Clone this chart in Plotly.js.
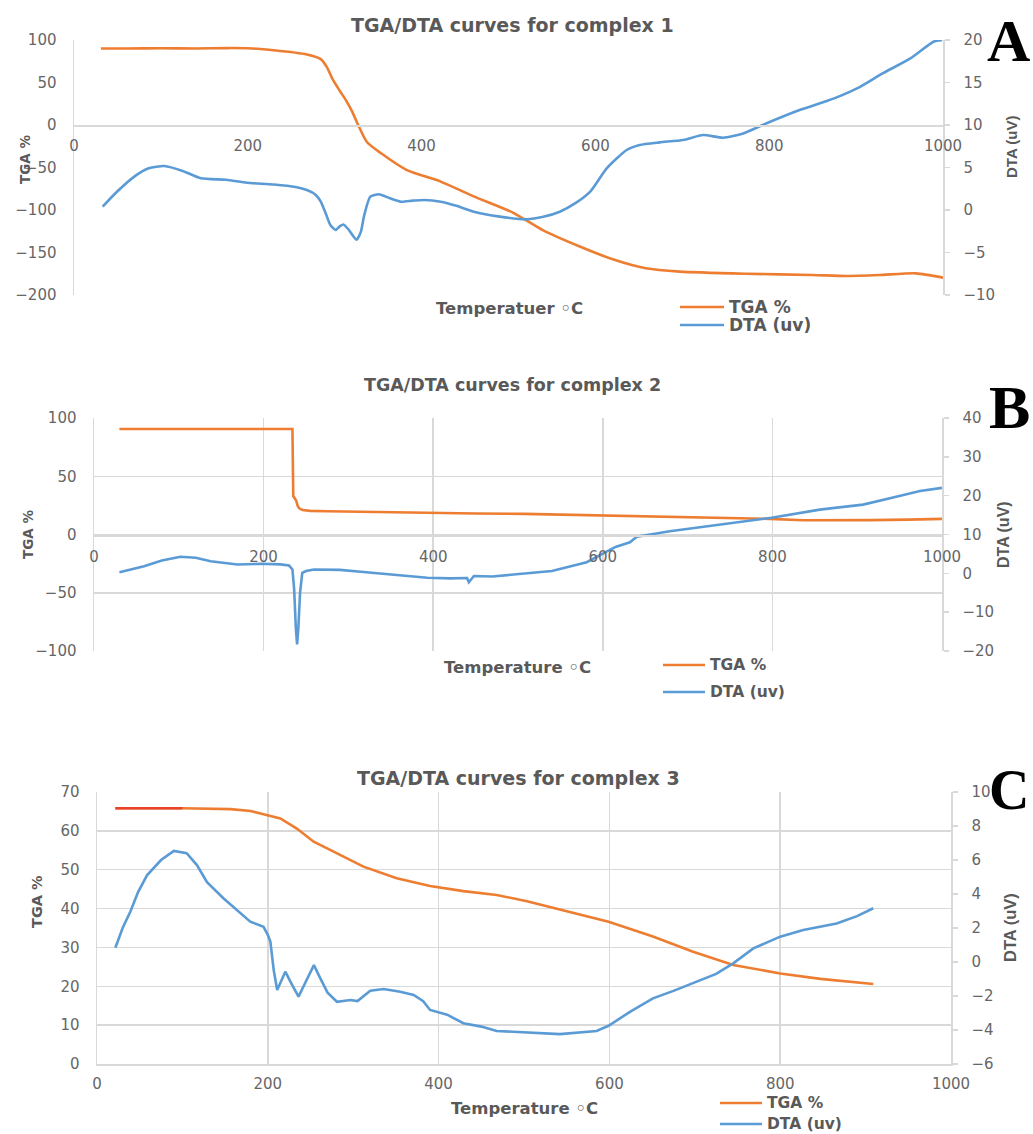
<!DOCTYPE html>
<html>
<head>
<meta charset="utf-8">
<script src="https://cdn.plot.ly/plotly-3.0.1.min.js"></script>
<style>
  html, body { margin: 0; padding: 0; background: #ffffff; overflow: hidden; }
  #chart { width: 1033px; height: 1134px; }
</style>
</head>
<body>
<div id="chart"></div>
<script>
// ---- Complex 1: TGA (%) and DTA (uV) against temperature (°C) ----
const tgaA_T = [31, 60, 100, 140, 176, 200, 230, 268, 284, 291, 298, 306, 313, 320, 327, 337, 353, 383, 422, 460, 505, 540, 582, 620, 658, 697, 774, 850, 889, 927, 969, 1000];
const tgaA   = [90, 90, 90.3, 90, 90.5, 90.3, 88, 83, 77.5, 68, 53, 40, 29, 16, 0, -20, -33, -53, -66.6, -84, -103, -124, -143, -158, -168.6, -172.5, -175, -176.5, -177.6, -176.5, -174.5, -179.6];
const dtaA_T = [33, 50, 69, 86, 104, 125, 146, 175, 199, 230, 255, 268, 278, 284, 290, 295, 301, 306, 310, 316, 325, 330, 334, 341, 351, 363, 376, 390, 403, 422, 440, 460, 490, 521, 540, 559, 577, 594, 613, 636, 651, 674, 701, 724, 747, 770, 797, 835, 874, 901, 931, 962, 989, 999];
const dtaA   = [0.4, 2.2, 3.9, 4.9, 5.18, 4.6, 3.73, 3.55, 3.2, 3.0, 2.7, 2.35, 1.8, 0.98, -0.5, -1.76, -2.35, -1.9, -1.7, -2.3, -3.5, -2.6, -0.6, 1.57, 1.85, 1.4, 0.98, 1.1, 1.18, 0.98, 0.5, -0.2, -0.78, -1.1, -0.8, -0.2, 0.8, 2.16, 4.9, 7.06, 7.65, 7.96, 8.24, 8.82, 8.5, 9.0, 10.2, 11.76, 13.1, 14.3, 16.1, 17.8, 19.8, 20];

// ---- Complex 2 ----
const tgaB_T = [30, 100, 200, 234, 235, 237, 238.5, 240, 242, 246, 255, 275, 330, 393, 450, 507, 600, 699, 797, 836, 876, 915, 960, 1000];
const tgaB   = [90.6, 90.6, 90.6, 90.6, 33, 31, 29, 25, 22.5, 21, 20.3, 19.9, 19.2, 18.5, 18.0, 17.7, 16.2, 15.2, 13.4, 12.2, 12, 12.3, 12.8, 13.4];
const dtaB_T = [30, 59, 80, 102, 120, 137.5, 169, 196.5, 220, 230, 234, 236, 238, 239.5, 241, 243, 245.6, 250, 259.4, 290, 314.5, 350, 393, 420, 432, 440, 442, 445, 448, 470, 507, 540, 581, 597, 615, 632, 640, 679, 738, 799, 856, 907, 946, 974, 1000];
const dtaB   = [0.3, 1.8, 3.3, 4.26, 4.0, 3.1, 2.27, 2.45, 2.3, 2.0, 1.0, -4, -14, -18.3, -14, -5, 0.1, 0.6, 1.0, 0.9, 0.4, -0.3, -1.15, -1.3, -1.15, -1.2, -2.3, -1.5, -0.7, -0.8, -0.1, 0.6, 2.87, 4.8, 6.8, 8.0, 9.4, 10.85, 12.6, 14.3, 16.4, 17.7, 19.7, 21.2, 22];

// ---- Complex 3 ----
const tgaC_T = [21.5, 60, 100, 156, 180, 195, 214.7, 234, 253.7, 273, 312, 351, 390, 429, 468, 503.5, 546, 599, 651, 698, 745, 800, 847, 909];
const tgaC   = [65.8, 65.8, 65.8, 65.6, 65.1, 64.3, 63.2, 60.6, 57.2, 55.1, 50.8, 47.8, 45.8, 44.5, 43.5, 41.9, 39.6, 36.6, 32.8, 28.9, 25.5, 23.3, 21.9, 20.6];
const dtaC_T = [21.5, 30, 39, 48, 58.5, 75, 90, 105, 117, 128.8, 148, 164, 179.5, 195, 200, 203, 207, 211, 215, 220.5, 228, 236, 245, 254, 261.5, 270, 281, 290, 296.6, 305, 320, 335.7, 355, 370.8, 382, 390, 410, 429, 450, 468, 503.5, 542, 585, 599, 625, 651, 675, 702, 725, 745, 768.5, 800, 827, 866, 890, 909];
const dtaC   = [0.84, 2.0, 2.96, 4.1, 5.1, 6.0, 6.53, 6.4, 5.7, 4.7, 3.75, 3.06, 2.37, 2.07, 1.6, 1.2, -0.5, -1.65, -1.2, -0.57, -1.3, -2.04, -1.1, -0.18, -0.96, -1.8, -2.34, -2.3, -2.24, -2.3, -1.69, -1.59, -1.75, -1.94, -2.3, -2.82, -3.1, -3.6, -3.8, -4.06, -4.14, -4.24, -4.06, -3.75, -2.9, -2.14, -1.7, -1.16, -0.7, -0.08, 0.8, 1.49, 1.88, 2.27, 2.7, 3.16];
// the first plateau points of the complex 3 TGA trace are plotted in red
const tgaC_redCount = 3;

const panelTitles = ['TGA/DTA curves for complex 1', 'TGA/DTA curves for complex 2', 'TGA/DTA curves for complex 3'];
const xTitles = ['Temperatuer \u25E6C', 'Temperature \u25E6C', 'Temperature \u25E6C'];
const panelLetters = ['A', 'B', 'C'];
const tgaName = 'TGA %';
const dtaName = 'DTA (uv)';
const tempTicks = [0, 200, 400, 600, 800, 1000];

// ---- page geometry (pixels) ----
const W = 1033, H = 1134;
const px = v => v / W;
const py = v => 1 - v / H;

const ORANGE = '#ED7D31';
const RED = '#E8412C';
const BLUE = '#5B9BD5';
const GRID = '#d9d9d9';
const TXT = '#595959';
const LW = 2.6;
const tickFont = { family: 'DejaVu Sans, sans-serif', size: 15, color: '#666666' };

function line(x, y, color, xa, ya, name, shape) {
  return {
    type: 'scatter', mode: 'lines', x: x, y: y, name: name,
    xaxis: xa, yaxis: ya, showlegend: false,
    line: { color: color, width: LW, shape: shape || 'linear', smoothing: 0.6 },
    hoverinfo: 'x+y'
  };
}

const data = [
  line(tgaA_T, tgaA, ORANGE, 'x', 'y', tgaName, 'spline'),
  line(dtaA_T, dtaA, BLUE, 'x', 'y2', dtaName, 'spline'),
  line(tgaB_T, tgaB, ORANGE, 'x2', 'y3', tgaName),
  line(dtaB_T, dtaB, BLUE, 'x2', 'y4', dtaName),
  line(tgaC_T, tgaC, ORANGE, 'x3', 'y5', tgaName),
  line(tgaC_T.slice(0, tgaC_redCount), tgaC.slice(0, tgaC_redCount), RED, 'x3', 'y5', tgaName),
  line(dtaC_T, dtaC, BLUE, 'x3', 'y6', dtaName)
];

function xAxis(l, r, opts) {
  return Object.assign({
    domain: [px(l), px(r)], range: [0, 1000], tickvals: tempTicks,
    showline: true, linecolor: GRID, linewidth: 1.5,
    ticks: '', tickfont: tickFont, zeroline: false, showgrid: false,
    ticklabelstandoff: 6, fixedrange: true
  }, opts);
}
function yLeft(top, bot, range, dtick, opts) {
  return Object.assign({
    domain: [py(bot), py(top)], range: range, dtick: dtick, tick0: range[0],
    showline: true, linecolor: GRID, linewidth: 1.5,
    ticks: '', tickfont: tickFont, ticklabelstandoff: 13,
    zeroline: false, showgrid: false, fixedrange: true
  }, opts);
}
function yRight(over, anchor, range, dtick, opts) {
  return Object.assign({
    overlaying: over, anchor: anchor, side: 'right', range: range, dtick: dtick, tick0: range[0],
    showline: true, linecolor: GRID, linewidth: 1.5,
    ticks: 'outside', ticklen: 5, tickcolor: GRID, tickwidth: 1.5,
    tickfont: tickFont, ticklabelstandoff: 11,
    zeroline: false, showgrid: false, fixedrange: true
  }, opts);
}

const annotations = [];
const shapes = [];
function addText(text, x, y, font, extra) {
  annotations.push(Object.assign({
    text: text, x: px(x), y: py(y), xref: 'paper', yref: 'paper',
    xanchor: 'center', yanchor: 'middle', showarrow: false, font: font
  }, extra || {}));
}
// legend: a coloured swatch followed by the series name
function legendRow(name, color, x0, x1, y, size) {
  shapes.push({
    type: 'line', xref: 'paper', yref: 'paper',
    x0: px(x0), x1: px(x1), y0: py(y), y1: py(y),
    line: { color: color, width: LW }
  });
  addText(name, x1 + 3, y, { family: 'DejaVu Sans, sans-serif', size: size, color: TXT, weight: 'bold' }, { xanchor: 'left' });
}

const axTitleFont = s => ({ family: 'DejaVu Sans, sans-serif', size: s, color: TXT, weight: 'bold' });
const dtaTitleFont = s => ({ family: 'Liberation Sans Narrow, Liberation Sans, sans-serif', size: s, color: TXT, weight: 'bold' });
const letterFont = s => ({ family: 'Liberation Serif, DejaVu Serif, serif', size: s, color: '#000000', weight: 'bold' });

// panel titles
addText(panelTitles[0], 512, 25, axTitleFont(19));
addText(panelTitles[1], 512, 385, axTitleFont(17.5));
addText(panelTitles[2], 518, 778, axTitleFont(19));
// temperature titles
addText(xTitles[0], 509, 308, axTitleFont(16.5));
addText(xTitles[1], 517, 667, axTitleFont(16.5));
addText(xTitles[2], 524, 1108, axTitleFont(16.5));
// TGA titles (left)
addText('TGA %', 25, 160, axTitleFont(13.5), { textangle: -90 });
addText('TGA %', 28, 535, axTitleFont(13.5), { textangle: -90 });
addText('TGA %', 37, 902, axTitleFont(14.5), { textangle: -90 });
// DTA titles (right)
addText('DTA (uV)', 1011, 147, dtaTitleFont(15), { textangle: -90 });
addText('DTA (uV)', 1003, 535, dtaTitleFont(16), { textangle: -90 });
addText('DTA (uV)', 1010, 928, dtaTitleFont(16.5), { textangle: -90 });
// panel letters
addText(panelLetters[0], 1032, 41, letterFont(60), { xanchor: 'right' });
addText(panelLetters[1], 1032, 407, letterFont(62), { xanchor: 'right' });
addText(panelLetters[2], 1031, 790, letterFont(56), { xanchor: 'right' });
// legends
legendRow(tgaName, ORANGE, 680, 724, 307, 17);
legendRow(dtaName, BLUE, 680, 724, 325, 17);
legendRow(tgaName, ORANGE, 663, 705, 665, 15.5);
legendRow(dtaName, BLUE, 663, 705, 692, 15.5);
legendRow(tgaName, ORANGE, 720, 762, 1103, 15.5);
legendRow(dtaName, BLUE, 720, 762, 1124, 15.5);

const layout = {
  width: W, height: H,
  margin: { l: 0, r: 0, t: 0, b: 0, autoexpand: false },
  paper_bgcolor: '#ffffff', plot_bgcolor: 'rgba(0,0,0,0)',
  showlegend: false,
  // complex 1: temperature axis crosses at TGA = 0, no gridlines
  xaxis: xAxis(74, 943, { anchor: 'free', position: py(125), ticklabelstandoff: 6 }),
  yaxis: yLeft(40, 295, [-200, 100], 50, { anchor: 'x' }),
  yaxis2: yRight('y', 'x', [-10, 20], 5),
  // complex 2: gridlines, temperature axis at TGA = 0
  xaxis2: xAxis(94, 942, { anchor: 'free', position: py(535), ticklabelstandoff: 7, showgrid: true, gridcolor: GRID, gridwidth: 1.5 }),
  yaxis3: yLeft(418, 651, [-100, 100], 50, { anchor: 'x2', showgrid: true, gridcolor: GRID, gridwidth: 1.5 }),
  yaxis4: yRight('y3', 'x2', [-20, 40], 10),
  // complex 3: gridlines, temperature axis at the bottom
  xaxis3: xAxis(97, 951, { anchor: 'y5', showgrid: true, gridcolor: GRID, gridwidth: 1.5, ticklabelstandoff: 5 }),
  yaxis5: yLeft(792, 1064, [0, 70], 10, { anchor: 'x3', showgrid: true, gridcolor: GRID, gridwidth: 1.5 }),
  yaxis6: yRight('y5', 'x3', [-6, 10], 2),
  shapes: shapes,
  annotations: annotations
};

Plotly.newPlot('chart', data, layout, { displayModeBar: false, staticPlot: true });
</script>
</body>
</html>
